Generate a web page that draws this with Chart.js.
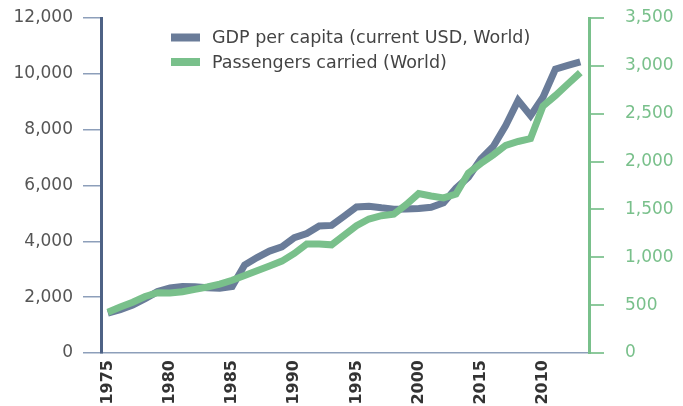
<!DOCTYPE html>
<html>
<head>
<meta charset="utf-8">
<script src="https://cdn.jsdelivr.net/npm/chart.js@4"></script>
<style>
  html, body { margin: 0; padding: 0; background: #fff; }
  #wrap { width: 683px; height: 406px; }
</style>
</head>
<body>
<div id="wrap"><canvas id="myChart" width="683" height="406"></canvas></div>
<script>
// data
const years = [1975,1976,1977,1978,1979,1980,1981,1982,1983,1984,1985,1986,1987,1988,1989,
  1990,1991,1992,1993,1994,1995,1996,1997,1998,1999,2000,2001,2002,2003,2004,2005,2006,2007,
  2008,2009,2010,2011,2012,2013];
const gdpPerCapita = [1430,1550,1720,1950,2200,2330,2380,2370,2340,2320,2380,3150,3420,3650,3800,
  4130,4280,4550,4570,4900,5230,5260,5200,5150,5160,5180,5220,5380,5900,6300,6950,7400,8150,
  9050,8500,9160,10170,10300,10430];
const passengers = [425,480,530,590,630,628,640,665,690,720,760,810,860,910,960,
  1040,1140,1140,1130,1230,1330,1400,1435,1450,1550,1665,1640,1620,1660,1880,1980,2070,2170,
  2210,2240,2580,2690,2810,2930];
const tickYears = [1975,1980,1985,1990,1995,2000,2005,2010];
const tickLabels = ['1975','1980','1985','1990','1995','2000','2015','2010'];
const seriesNames = ['GDP per capita (current USD, World)', 'Passengers carried (World)'];

const blue = '#6a7c99';
const green = '#79c08b';
const font = 'DejaVu Sans';

// legend drawn inside the plot, stacked
const innerLegend = {
    id: 'innerLegend',
    afterDraw(chart) {
        const ctx = chart.ctx;
        const items = [[seriesNames[0], blue], [seriesNames[1], green]];
        ctx.save();
        ctx.font = '17.5px "' + font + '"';
        ctx.textBaseline = 'middle';
        items.forEach(function(it, i) {
            const y = 37.5 + i * 24.5;
            ctx.fillStyle = it[1];
            ctx.fillRect(171, y - 4, 29, 8);
            ctx.fillStyle = '#444';
            ctx.fillText(it[0], 212, y + 1);
        });
        ctx.restore();
    }
};

// fixed scale sizes so the plot area lands where the picture has it
function fixWidth(w) {
    return function(scale) {
        scale.width = w;
        scale.paddingTop = 0;
        scale.paddingBottom = 0;
    };
}

const ctx = document.getElementById('myChart');
const config = {
    type: 'line',
    data: {
        datasets: [{
            label: seriesNames[0],
            data: years.map((y, i) => ({x: y, y: gdpPerCapita[i]})),
            borderColor: blue,
            borderWidth: 7,
            pointRadius: 0,
            yAxisID: 'y',
            order: 1
        }, {
            label: seriesNames[1],
            data: years.map((y, i) => ({x: y, y: passengers[i]})),
            borderColor: green,
            borderWidth: 7,
            pointRadius: 0,
            yAxisID: 'y1',
            order: 0
        }]
    },
    options: {
        responsive: false,
        animation: false,
        layout: { padding: { top: 18 } },
        plugins: { legend: { display: false }, tooltip: { enabled: false } },
        scales: {
            x: {
                type: 'linear',
                min: 1974.45,
                max: 2013.7,
                afterBuildTicks: function(scale) {
                    scale.ticks = tickYears.map(v => ({value: v}));
                },
                afterFit: function(scale) {
                    scale.height = 53;
                    scale.paddingLeft = 0;
                    scale.paddingRight = 0;
                },
                grid: { display: true, drawOnChartArea: false, drawTicks: false },
                border: { color: '#8d9fba', width: 1.5 },
                ticks: {
                    autoSkip: false,
                    minRotation: 90,
                    maxRotation: 90,
                    padding: 7,
                    color: '#333',
                    font: { family: font, size: 16, weight: 'bold' },
                    callback: function(value, index) { return tickLabels[index]; }
                }
            },
            y: {
                position: 'left',
                min: 0,
                max: 12000,
                afterFit: fixWidth(101),
                grid: { drawOnChartArea: false, tickLength: 18, color: '#8d9fba', lineWidth: 1.5 },
                border: { color: '#4e6285', width: 3 },
                ticks: {
                    stepSize: 2000,
                    padding: 10,
                    color: '#555',
                    font: { family: font, size: 17 },
                    callback: v => v.toLocaleString('en-US')
                }
            },
            y1: {
                position: 'right',
                min: 0,
                max: 3500,
                afterFit: fixWidth(94),
                grid: { drawOnChartArea: false, tickLength: 15, color: '#8dc99c', lineWidth: 2 },
                border: { color: green, width: 3 },
                ticks: {
                    stepSize: 500,
                    padding: 21,
                    color: green,
                    font: { family: font, size: 17 },
                    callback: v => v.toLocaleString('en-US')
                }
            }
        }
    },
    plugins: [innerLegend]
};

const myChart = new Chart(ctx, config);
</script>
</body>
</html>
